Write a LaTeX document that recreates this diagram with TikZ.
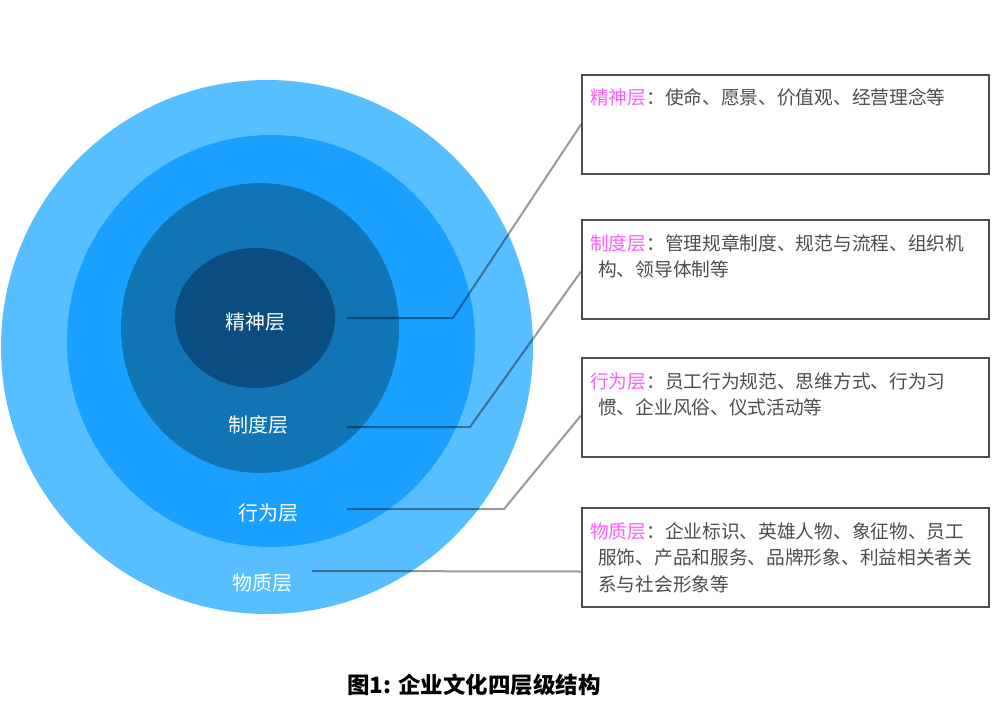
\documentclass[tikz,border=0pt]{standalone}
\usepackage{fontspec}
\newfontfamily\cjk{Noto Sans CJK SC}
\usetikzlibrary{calc}
\definecolor{ring1}{HTML}{57BFFF}
\definecolor{ring2}{HTML}{1AA1FF}
\definecolor{ring3}{HTML}{1074B5}
\definecolor{ring4}{HTML}{0A4D80}
\definecolor{lbl}{HTML}{FF5CFF}
\definecolor{txt}{HTML}{4D4D4D}
\definecolor{frame}{HTML}{4D4D4D}
\tikzset{
  ringlabel/.style={text=white, font=\cjk\fontsize{20}{24}\selectfont, inner sep=0pt},
  infobox/.style={draw=frame, line width=2pt, fill=white, minimum width=407pt, minimum height=99pt, anchor=north west, inner sep=0pt},
  infotext/.style={text=txt, font=\cjk\fontsize{18.7}{26.5}\selectfont, align=left, anchor=north west, inner sep=0pt},
  leader/.style={draw=black, draw opacity=0.4, line width=2pt},
}
\begin{document}
\begin{tikzpicture}[x=1pt,y=-1pt]
\useasboundingbox (0,0) rectangle (1000,711);
% rings
\fill[ring1] (267,347) ellipse [x radius=266pt, y radius=267pt];
\fill[ring2] (271,341) ellipse [x radius=204pt, y radius=206pt];
\fill[ring3] (260,328) ellipse [x radius=139pt, y radius=145pt];
\fill[ring4] (255,318) ellipse [x radius=80pt, y radius=70pt];
% ring labels
\node[ringlabel] (l1) at (255,322) {精神层};
\node[ringlabel] (l2) at (258,425) {制度层};
\node[ringlabel] (l3) at (268,513) {行为层};
\node[ringlabel] (l4) at (262,583) {物质层};
% boxes
\node[infobox] (b1) at (581,74) {};
\node[infobox] (b2) at (581,219) {};
\node[infobox] (b3) at (581,357) {};
\node[infobox] (b4) at (581,507) {};
% box texts
\node[infotext] (t1) at ($(b1.north west)+(9,14)$) {\textcolor{lbl}{精神层}：使命、愿景、价值观、经营理念等};
\node[infotext] (t2) at ($(b2.north west)+(9,15)$) {\textcolor{lbl}{制度层}：管理规章制度、规范与流程、组织机\\\hspace*{8pt}构、领导体制等};
\node[infotext] (t3) at ($(b3.north west)+(9,15)$) {\textcolor{lbl}{行为层}：员工行为规范、思维方式、行为习\\\hspace*{8pt}惯、企业风俗、仪式活动等};
\node[infotext] (t4) at ($(b4.north west)+(9,15)$) {\textcolor{lbl}{物质层}：企业标识、英雄人物、象征物、员工\\\hspace*{8pt}服饰、产品和服务、品牌形象、利益相关者关\\\hspace*{8pt}系与社会形象等};
% leader lines
\coordinate (s1) at (347,318);
\coordinate (k1) at (453,318);
\coordinate (s2) at (347,427);
\coordinate (k2) at (470,427);
\coordinate (s3) at (347,509);
\coordinate (k3) at (504,509);
\coordinate (s4) at (312,571);
\draw[leader] (s1) -- (k1) -- (b1.west);
\draw[leader] (s2) -- (k2) -- ([yshift=-2pt]b2.west);
\draw[leader] (s3) -- (k3) -- ([yshift=-8pt]b3.west);
\draw[leader] (s4) -- ([yshift=-14pt]b4.west);
% caption
\node[font=\cjk\bfseries\fontsize{22.5}{26}\selectfont, text=black, inner sep=0pt] (cap) at (474,685) {图1: 企业文化四层级结构};
\end{tikzpicture}
\end{document}
